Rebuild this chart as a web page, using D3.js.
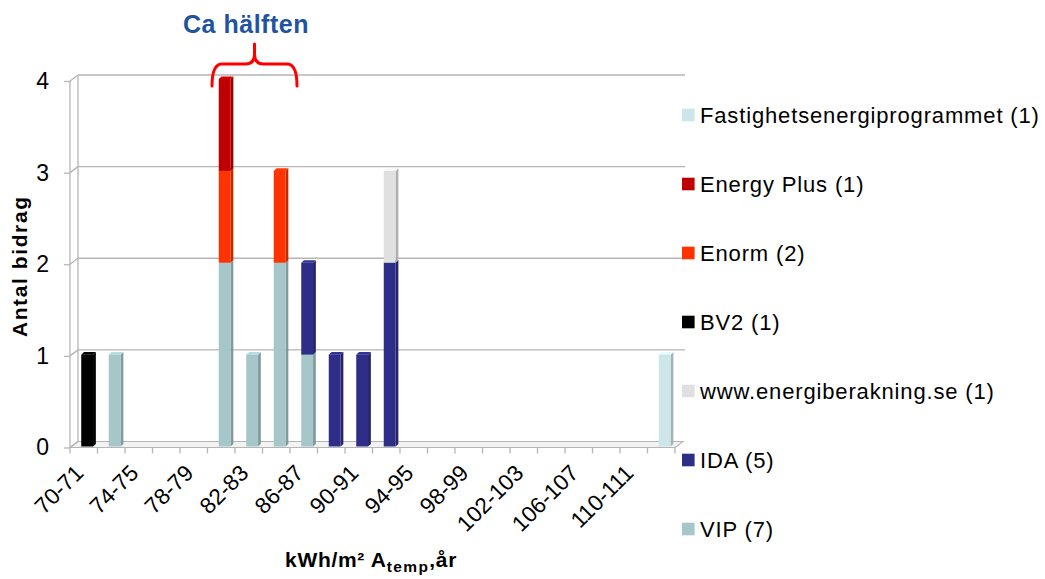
<!DOCTYPE html>
<html>
<head>
<meta charset="utf-8">
<script src="https://cdn.jsdelivr.net/npm/d3@7"></script>
<style>
  body { margin: 0; background: #fff; }
  text { font-family: "Liberation Sans", Arial, sans-serif; }
</style>
</head>
<body>
<svg id="chart" width="1045" height="579"></svg>
<script>
// Energy-use bins (kWh/m² Atemp, år) and number of contributions per calculation tool
const categories = ["70-71","72-73","74-75","76-77","78-79","80-81","82-83","84-85","86-87","88-89","90-91",
                    "92-93","94-95","96-97","98-99","100-101","102-103","104-105","106-107","108-109","110-111","112-113"];
const labelledTicks = ["70-71","74-75","78-79","82-83","86-87","90-91","94-95","98-99","102-103","106-107","110-111"];
const yTicks = [0, 1, 2, 3, 4];

const vip        = [0,1,0,0,0,2,1,2,1,0,0,0,0,0,0,0,0,0,0,0,0,0];
const ida        = [0,0,0,0,0,0,0,0,1,1,1,2,0,0,0,0,0,0,0,0,0,0];
const www        = [0,0,0,0,0,0,0,0,0,0,0,1,0,0,0,0,0,0,0,0,0,0];
const bv2        = [1,0,0,0,0,0,0,0,0,0,0,0,0,0,0,0,0,0,0,0,0,0];
const enorm      = [0,0,0,0,0,1,0,1,0,0,0,0,0,0,0,0,0,0,0,0,0,0];
const energyPlus = [0,0,0,0,0,1,0,0,0,0,0,0,0,0,0,0,0,0,0,0,0,0];
const fastighets = [0,0,0,0,0,0,0,0,0,0,0,0,0,0,0,0,0,0,0,0,0,1];

// stacking order, bottom to top
const seriesNames  = ["VIP (7)", "IDA (5)", "www.energiberakning.se (1)", "BV2 (1)", "Enorm (2)", "Energy Plus (1)", "Fastighetsenergiprogrammet (1)"];
const seriesValues = [vip, ida, www, bv2, enorm, energyPlus, fastighets];
const seriesColors = ["#a5c7c9", "#2e2d88", "#e0e0e0", "#000000", "#ff3300", "#c00000", "#cde6ea"];

const rows = categories.map((c, i) => {
  const r = { category: c };
  seriesNames.forEach((s, k) => { r[s] = seriesValues[k][i]; });
  return r;
});

const svg = d3.select("#chart");
svg.append("rect").attr("width", 1045).attr("height", 579).attr("fill", "#fff");

const x = d3.scaleBand().domain(categories).range([70, 675]).padding(0);
const y = d3.scaleLinear().domain([0, 4]).range([447.5, 81]);
const yBar = d3.scaleLinear().domain([0, 4]).range([446.5, 79]);
const color = d3.scaleOrdinal().domain(seriesNames).range(seriesColors);
const wallDx = 8, wallDy = -6;
const gridColor = "#b5b5b5";
const fontStack = "'Liberation Sans', Arial, sans-serif";

// floor
const [x0, x1] = x.range();
svg.append("path")
  .attr("d", `M${x0},${y(0)} L${x1},${y(0)} L${x1 + wallDx},${y(0) + wallDy} L${x0 + wallDx},${y(0) + wallDy} Z`)
  .attr("fill", "#f3f3f3").attr("stroke", gridColor).attr("stroke-width", 1.2);

// back-wall gridlines and left-wall diagonals
const grid = svg.append("g").attr("stroke", gridColor).attr("stroke-width", 1.3).attr("fill", "none");
grid.selectAll("line.h").data(yTicks.filter(t => t > 0)).join("line")
  .attr("x1", x0 + wallDx).attr("x2", x1 + wallDx + 2)
  .attr("y1", d => y(d) + wallDy).attr("y2", d => y(d) + wallDy);
grid.selectAll("line.d").data(yTicks).join("line")
  .attr("x1", x0).attr("y1", d => y(d))
  .attr("x2", x0 + wallDx).attr("y2", d => y(d) + wallDy);
grid.append("line").attr("x1", x0 + wallDx).attr("x2", x0 + wallDx)
  .attr("y1", y(4) + wallDy).attr("y2", y(0) + wallDy);

// y axis
const yAxis = svg.append("g").attr("transform", `translate(${x0},0)`)
  .call(d3.axisLeft(y).tickValues(yTicks).tickFormat(d3.format("d")).tickSize(6).tickPadding(15));
yAxis.select(".domain").attr("stroke", gridColor).attr("stroke-width", 1.3).attr("d", `M0,${y(4)}V${y(0)}`);
yAxis.selectAll(".tick line").attr("stroke", gridColor).attr("stroke-width", 1.3);
yAxis.selectAll(".tick text").attr("font-size", 23).attr("fill", "#000").attr("font-family", fontStack);

// x axis: tick marks at category boundaries, labels on every other category
const boundaries = categories.map(c => x(c)).concat([x1]);
svg.append("g").selectAll("line").data(boundaries).join("line")
  .attr("x1", d => d).attr("x2", d => d)
  .attr("y1", y(0)).attr("y2", y(0) + 6)
  .attr("stroke", gridColor).attr("stroke-width", 1.3);

const xAxis = svg.append("g").attr("transform", `translate(0,${y(0)})`)
  .call(d3.axisBottom(x).tickValues(labelledTicks).tickSize(0).tickPadding(0));
xAxis.select(".domain").remove();
xAxis.selectAll(".tick text")
  .attr("font-size", 22.5).attr("fill", "#000").attr("font-family", fontStack)
  .attr("text-anchor", "end")
  .attr("dy", 0).attr("y", 0)
  .attr("transform", "translate(1,27) rotate(-45)");

// stacked 3-D style bars
const stacked = d3.stack().keys(seriesNames)(rows);
const barW = 11.8, barOff = -2.5, d3x = 2.8, d3y = -2.6;
const bars = svg.append("g");
stacked.forEach(layer => {
  const base = d3.color(color(layer.key));
  const side = base.darker(0.7).formatHex();
  const top = base.brighter(0.3).formatHex();
  layer.forEach((seg, i) => {
    if (seg[1] - seg[0] <= 0) return;
    const bx = x(categories[i]) + x.bandwidth() / 2 + barOff;
    const yt = yBar(seg[1]), yb = yBar(seg[0]);
    const g = bars.append("g");
    g.append("path")
      .attr("d", `M${bx + barW},${yb} L${bx + barW},${yt} L${bx + barW + d3x},${yt + d3y} L${bx + barW + d3x},${yb + d3y} Z`)
      .attr("fill", side);
    g.append("path")
      .attr("d", `M${bx},${yt} L${bx + barW},${yt} L${bx + barW + d3x},${yt + d3y} L${bx + d3x},${yt + d3y} Z`)
      .attr("fill", top);
    g.append("rect").attr("x", bx).attr("y", yt).attr("width", barW).attr("height", yb - yt)
      .attr("fill", base.formatHex());
  });
});

// axis titles
svg.append("text")
  .attr("transform", `translate(27,${(y(0) + y(4)) / 2 + 2}) rotate(-90)`)
  .attr("text-anchor", "middle").attr("font-size", 21).attr("font-weight", "bold")
  .attr("letter-spacing", 1.6).attr("fill", "#000")
  .text("Antal bidrag");

const xt = svg.append("text").attr("x", 285).attr("y", 567)
  .attr("font-size", 21).attr("font-weight", "bold").attr("fill", "#000").attr("letter-spacing", 0.7);
xt.append("tspan").text("kWh/m² A");
xt.append("tspan").attr("font-size", 15.5).attr("dy", 5).attr("letter-spacing", 1.4).text("temp");
xt.append("tspan").attr("dy", -5).text(",år");

// legend
const legendItems = seriesNames.slice().reverse();
const legend = svg.append("g");
legendItems.forEach((name, i) => {
  const cy = 115 + i * 69;
  legend.append("rect").attr("x", 682).attr("y", cy - 6.3).attr("width", 12.6).attr("height", 12.6)
    .attr("fill", color(name));
  legend.append("text").attr("x", 700).attr("y", cy + 8)
    .attr("font-size", 22).attr("letter-spacing", 0.85).attr("fill", "#000")
    .text(name);
});

// annotation: bracket over the peak bins
svg.append("text").attr("x", 246).attr("y", 33).attr("text-anchor", "middle")
  .attr("font-size", 25).attr("font-weight", "bold").attr("fill", "#2153a0").attr("letter-spacing", 0.5)
  .text("Ca hälften");
const bl = x("80-81") + 4.5, br = x("84-85") + x.bandwidth() + 7, bm = (bl + br) / 2;
svg.append("path")
  .attr("d", `M${bl},86 Q${bl},64 ${bl + 10},64 L${bm - 9},64 Q${bm},64 ${bm},54 L${bm},44 ` +
             `M${bm},54 Q${bm},64 ${bm + 9},64 L${br - 10},64 Q${br},64 ${br},86`)
  .attr("fill", "none").attr("stroke", "#ff0000").attr("stroke-width", 3).attr("stroke-linecap", "round");
</script>
</body>
</html>
